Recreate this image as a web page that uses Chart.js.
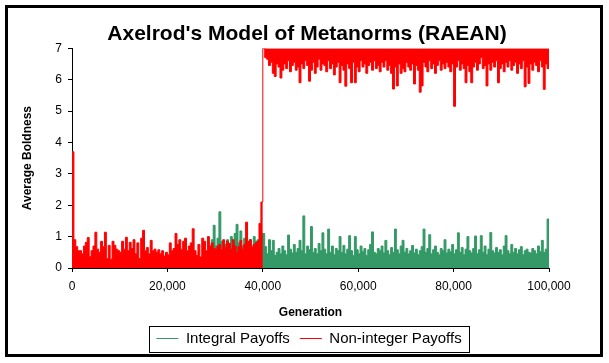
<!DOCTYPE html>
<html lang="en">
<head>
<meta charset="UTF-8">
<title>Axelrod's Model of Metanorms (RAEAN)</title>
<script src="https://cdn.jsdelivr.net/npm/chart.js"></script>
<style>
  body { margin: 0; background: #fff; }
  #frame { position: absolute; left: 5px; top: 5px; width: 592px; height: 346px; border: 3px solid #000; background: #fff; }
</style>
</head>
<body>
<div id="frame"><canvas id="metanorms"></canvas></div>
<script>
// one sample every 400 generations (index 0 = generation 0, index 250 = generation 100,000)
const GEN_STEP = 400;
const xTickStep = 20000;
const yTickStep = 1;

// Non-integer payoffs: low phase up to 40,000, then jumps to ~6.5
const nonInteger = [
  3.7, 0.9, 0.68, 0.55, 0.55, 0.45, 0.7, 0.82, 0.97, 0.36,
  0.55, 0.7, 1.14, 0.6, 0.5, 0.85, 0.68, 1.14, 0.3, 0.72,
  0.28, 0.85, 0.72, 0.6, 0.55, 0.5, 0.85, 0.6, 0.98, 0.55,
  0.82, 0.62, 0.9, 0.45, 0.8, 0.3, 0.95, 1.2, 0.55, 0.65,
  0.45, 0.88, 0.55, 0.6, 0.5, 0.58, 0.45, 0.55, 0.38, 0.5,
  0.42, 0.8, 0.55, 0.62, 1.1, 0.75, 0.9, 0.6, 0.85, 0.95,
  0.55, 0.7, 0.8, 1.25, 0.55, 0.4, 0.75, 0.35, 0.95, 0.85,
  0.55, 1.0, 0.7, 0.8, 0.62, 0.6, 0.7, 0.75, 0.58, 0.9,
  0.65, 0.85, 0.78, 0.6, 0.9, 0.7, 0.5, 0.68, 0.88, 0.6,
  0.75, 1.46, 0.85, 0.9, 0.65, 0.75, 0.8, 0.85, 1.42, 2.1,
  7,
  6.7, 6.65, 6.45, 6.55, 6.2, 6.1, 6.5, 6.4, 6.05, 6.3,
  6.5, 6.35, 6.6, 6.25, 6.45, 6.55, 6.3, 6.4, 5.9, 6.5,
  6.35, 6.6, 6.45, 5.95, 6.3, 6.55, 6.2, 6.4, 6.65, 6.3,
  6.5, 6.45, 6.25, 6.6, 6.35, 6.5, 6.15, 6.4, 6.55, 5.9,
  6.45, 6.3, 5.79, 6.5, 6.35, 5.9, 6.55, 5.9, 6.4, 6.25,
  6.6, 6.4, 6.5, 6.2, 6.45, 6.55, 6.3, 6.6, 6.35, 6.45,
  6.25, 6.55, 6.4, 6.6, 6.3, 6.45, 6.2, 5.7, 6.4, 5.8,
  6.5, 6.2, 6.35, 6.25, 6.55, 6.4, 6.3, 6.5, 5.86, 6.45,
  6.3, 5.6, 5.8, 6.55, 6.4, 6.25, 6.6, 6.35, 6.5, 6.2,
  6.45, 6.6, 6.3, 6.5, 6.35, 6.55, 6.4, 6.25, 6.5, 5.15,
  6.4, 6.6, 6.3, 6.5, 6.35, 5.9, 6.45, 6.25, 5.9, 6.4,
  6.55, 6.3, 6.5, 6.7, 6.35, 6.45, 5.8, 6.5, 6.3, 6.55,
  6.4, 6.6, 5.9, 6.35, 6.5, 6.25, 6.55, 6.4, 6.6, 6.3,
  6.45, 6.55, 6.2, 6.5, 6.35, 6.6, 5.77, 6.4, 5.88, 6.5,
  6.3, 6.55, 6.45, 6.25, 6.6, 6.4, 5.69, 6.5, 6.35, 6.55
];
const jumpIndex = 100; // generation 40,000

// Integral payoffs: stays low (only visible from ~29,000 on, under the red before that)
const integral = [].concat(new Array(72).fill(null), [
  0.6, 0.9, 1.36, 0.7, 0.95, 1.79, 0.85, 0.6,
  0.75, 0.9, 0.65, 1.0, 0.7, 1.1, 1.39, 0.8, 1.18, 0.7,
  0.95, 0.8, 0.75, 0.9, 0.7, 1.0, 0.85, 0.9, 0.8, 1.1,
  1.1, 0.68, 0.45, 0.9, 0.55, 0.88, 0.4, 0.5, 0.62, 0.45,
  0.7, 0.55, 0.42, 1.05, 0.6, 0.48, 0.75, 0.5, 0.62, 0.88,
  0.55, 1.66, 0.45, 0.7, 0.58, 1.32, 0.5, 0.62, 0.45, 0.78,
  0.55, 1.12, 0.6, 0.45, 1.24, 0.5, 0.7, 0.42, 0.62, 0.55,
  1.0, 0.5, 0.72, 0.45, 0.6, 1.03, 0.55, 0.4, 1.0, 0.58,
  0.45, 0.7, 0.52, 0.62, 0.4, 0.58, 0.75, 1.15, 0.5, 0.45,
  0.62, 0.55, 0.7, 0.48, 0.88, 0.55, 0.42, 0.65, 0.5, 1.24,
  0.58, 0.45, 0.7, 0.88, 0.5, 0.62, 0.45, 0.55, 0.72, 0.48,
  0.6, 0.42, 0.55, 0.68, 1.24, 0.5, 0.62, 1.06, 0.45, 0.58,
  0.7, 0.5, 0.42, 0.62, 0.55, 0.9, 0.48, 0.6, 0.52, 0.75,
  0.45, 0.58, 1.12, 0.5, 0.65, 0.42, 0.6, 1.0, 0.55, 0.48,
  0.62, 1.02, 0.45, 0.58, 1.03, 0.5, 0.7, 0.42, 0.6, 1.13,
  0.55, 0.48, 0.65, 0.5, 0.58, 0.42, 0.7, 1.03, 0.55, 0.45,
  0.75, 0.5, 0.62, 0.45, 0.58, 0.68, 0.42, 0.55, 0.6, 0.5,
  0.48, 0.62, 0.55, 0.45, 0.7, 0.52, 0.88, 0.5, 0.6, 1.56,
  0.6
]);

const GREEN = '#339966';
const RED = '#ff0000';
const FONT = 'Arial, "Liberation Sans", sans-serif';

function toPoints(values, from, to) {
  const pts = [];
  for (let i = from; i <= to; i++) {
    if (values[i] !== null && values[i] !== undefined) pts.push({ x: i * GEN_STEP, y: values[i] });
  }
  return pts;
}

// nudge the legend a little lower/right and draw the box round it, like the excel one
const legendFrame = {
  id: 'legendFrame',
  afterLayout(chart) {
    const lg = chart.legend;
    if (!lg) return;
    lg.top += 2; lg.bottom += 2;
    lg.left += 2; lg.right += 2;
  },
  afterDraw(chart) {
    const boxes = chart.legend && chart.legend.legendHitBoxes;
    if (!boxes || !boxes.length) return;
    const left = Math.min(...boxes.map(b => b.left)) - 7;
    const right = Math.max(...boxes.map(b => b.left + b.width)) + 8;
    const mid = boxes[0].top + boxes[0].height / 2;
    const c = chart.ctx;
    c.save();
    c.strokeStyle = '#000';
    c.lineWidth = 1;
    c.strokeRect(Math.round(left) + 0.5, Math.round(mid - 13) + 0.5, Math.round(right - left), 26);
    c.restore();
  }
};

Chart.defaults.font.family = FONT;
Chart.defaults.color = '#000';

const axisGrid = { display: true, drawOnChartArea: false, drawTicks: true, tickLength: 4, color: '#000', lineWidth: 1 };

new Chart(document.getElementById('metanorms'), {
  type: 'line',
  data: {
    datasets: [{
      label: 'Integral Payoffs',
      data: toPoints(integral, 0, integral.length - 1),
      borderColor: GREEN,
      backgroundColor: GREEN,
      borderWidth: 1,
      pointRadius: 0,
      stepped: true,
      fill: 'origin',
      order: 1
    }, {
      label: 'Non-integer Payoffs',
      data: toPoints(nonInteger, 0, jumpIndex),
      borderColor: RED,
      backgroundColor: RED,
      borderWidth: 1,
      pointRadius: 0,
      stepped: true,
      fill: 'origin',
      order: 0
    }, {
      label: 'Non-integer Payoffs (high)',
      data: toPoints(nonInteger, jumpIndex, nonInteger.length - 1),
      borderColor: RED,
      backgroundColor: RED,
      borderWidth: 1,
      pointRadius: 0,
      stepped: true,
      fill: 'end',
      order: 0
    }]
  },
  options: {
    responsive: true,
    maintainAspectRatio: false,
    animation: false,
    layout: { padding: { left: 6, right: 0, top: 0, bottom: 0 } },
    plugins: {
      title: {
        display: true,
        text: "Axelrod's Model of Metanorms (RAEAN)",
        color: '#000',
        font: { size: 21, weight: 'bold' },
        padding: { top: 14, bottom: 1 }
      },
      legend: {
        position: 'bottom',
        labels: {
          usePointStyle: true,
          pointStyle: 'line',
          pointStyleWidth: 22,
          font: { size: 15 },
          color: '#000',
          padding: 10,
          filter: item => item.datasetIndex !== 2,
          sort: (a, b) => a.datasetIndex - b.datasetIndex
        }
      },
      tooltip: { enabled: false }
    },
    scales: {
      x: {
        type: 'linear',
        min: 0,
        max: 100000,
        ticks: { stepSize: xTickStep, padding: 7, maxRotation: 0, autoSkip: false, font: { size: 12 } },
        grid: axisGrid,
        border: { display: true, color: '#000', width: 1 },
        title: { display: true, text: 'Generation', font: { size: 12, weight: 'bold' }, padding: { top: 0, bottom: -1 } },
        afterFit: s => { s.height = 51; }
      },
      y: {
        min: 0,
        max: 7,
        ticks: { stepSize: yTickStep, padding: 6, font: { size: 12 } },
        grid: axisGrid,
        border: { display: true, color: '#000', width: 1 },
        title: { display: true, text: 'Average Boldness', font: { size: 12, weight: 'bold' }, padding: { top: 6, bottom: 0 } },
        afterFit: s => { s.width = 58; }
      },
      yr: {
        position: 'right',
        display: true,
        grid: { display: false },
        border: { display: false },
        ticks: { display: false },
        afterFit: s => { s.width = 51; }
      }
    }
  },
  plugins: [legendFrame]
});
</script>
</body>
</html>
